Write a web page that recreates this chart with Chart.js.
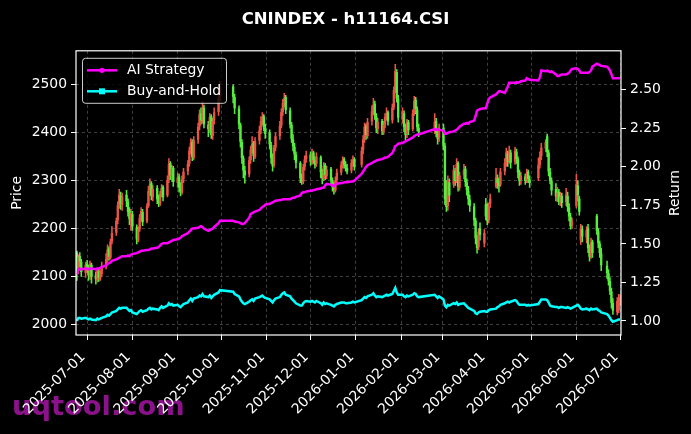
<!DOCTYPE html>
<html>
<head>
<meta charset="utf-8">
<title>CNINDEX - h11164.CSI</title>
<script src="https://cdn.jsdelivr.net/npm/chart.js@4.4.1/dist/chart.umd.min.js"></script>
<style>
  html, body { margin: 0; padding: 0; background: #000; }
  #wrap { position: relative; width: 691px; height: 434px; }
</style>
</head>
<body>
<div id="wrap"><canvas id="myChart"></canvas></div>
<script>
// exchange holidays (weekdays with no trading)
const holidays = [
  "2025-10-01", "2025-10-02", "2025-10-03", "2025-10-06", "2025-10-07", "2025-10-08",
  "2026-01-01", "2026-01-02",
  "2026-02-16", "2026-02-17", "2026-02-18", "2026-02-19", "2026-02-20", "2026-02-23",
  "2026-04-06", "2026-05-01", "2026-05-04", "2026-05-05", "2026-06-19"
];

const monthTicks = [
  "2025-07-01", "2025-08-01", "2025-09-01", "2025-10-01", "2025-11-01", "2025-12-01",
  "2026-01-01", "2026-02-01", "2026-03-01", "2026-04-01", "2026-05-01", "2026-06-01", "2026-07-01"
];
const priceTicks = [2000, 2100, 2200, 2300, 2400, 2500];
const returnTicks = [1.0, 1.25, 1.5, 1.75, 2.0, 2.25, 2.5];

// one row per month, Jun 2025 .. Jul 2026
const opens = [
  2150, 2112, 2142, 2130, 2108,
  2126, 2116, 2100, 2124, 2102, 2094, 2110, 2096, 2106, 2120, 2138, 2158, 2140, 2174, 2192, 2218, 2250, 2268, 2250, 2270, 2256, 2238, 2218,
  2230, 2202, 2176, 2200, 2224, 2234, 2216, 2248, 2280, 2294, 2266, 2284, 2260, 2252, 2274, 2286, 2270, 2302, 2336, 2310, 2326,
  2296, 2308, 2284, 2276, 2304, 2320, 2336, 2364, 2380, 2348, 2386, 2414, 2440, 2428, 2452, 2416, 2406, 2434, 2394, 2426, 2444, 2474,
  2496, 2474, 2450, 2416, 2380, 2346, 2320, 2314, 2344, 2366, 2378, 2350, 2384, 2406, 2426, 2434, 2410,
  2400, 2374, 2346, 2334, 2370, 2394, 2416, 2444, 2464, 2474, 2446, 2416, 2386, 2370, 2354, 2336, 2304, 2298, 2330, 2346,
  2354, 2338, 2358, 2342, 2336, 2348, 2316, 2304, 2332, 2310, 2324, 2300, 2286, 2280, 2302, 2318, 2334, 2344, 2332, 2326, 2322, 2338, 2344,
  2334, 2364, 2388, 2414, 2394, 2424, 2446, 2460, 2434, 2408, 2424, 2402, 2418, 2434, 2442, 2426, 2454, 2490, 2526, 2470,
  2430, 2440, 2410, 2398, 2422, 2408, 2442, 2468, 2448, 2410, 2404, 2424, 2398, 2390,
  2410, 2372, 2264, 2248, 2296, 2292, 2320, 2302, 2336, 2286, 2312, 2324, 2296, 2278, 2260, 2246, 2216, 2178, 2162, 2200, 2170, 2250,
  2240, 2218, 2252, 2288, 2304, 2298, 2292, 2320, 2338, 2356, 2342, 2358, 2340, 2360, 2344, 2316, 2302, 2308, 2302, 2318, 2302,
  2306, 2334, 2352, 2368, 2392, 2358, 2318, 2298, 2282, 2266, 2276, 2256, 2268, 2256, 2268, 2244, 2224, 2208,
  2248, 2290, 2262, 2176, 2198, 2182, 2200, 2158, 2144, 2172, 2226, 2194, 2168, 2148, 2122, 2106, 2090, 2068, 2044, 2026, 2030,
  2048
];
const highs = [
  2153, 2146, 2150, 2136, 2130,
  2134, 2124, 2132, 2128, 2110, 2118, 2116, 2114, 2130, 2148, 2166, 2162, 2178, 2204, 2222, 2256, 2282, 2276, 2274, 2280, 2262, 2244, 2240,
  2236, 2208, 2204, 2230, 2244, 2240, 2252, 2288, 2304, 2298, 2290, 2290, 2270, 2278, 2292, 2290, 2310, 2346, 2340, 2332, 2330,
  2316, 2314, 2296, 2310, 2326, 2342, 2370, 2388, 2386, 2392, 2420, 2448, 2452, 2466, 2458, 2424, 2440, 2438, 2430, 2452, 2480, 2508,
  2500, 2480, 2456, 2420, 2386, 2352, 2330, 2350, 2372, 2392, 2382, 2390, 2414, 2434, 2442, 2438, 2418,
  2406, 2380, 2356, 2374, 2400, 2424, 2450, 2470, 2482, 2478, 2452, 2422, 2396, 2378, 2360, 2340, 2314, 2334, 2352, 2362,
  2360, 2366, 2362, 2350, 2358, 2352, 2324, 2338, 2336, 2330, 2328, 2306, 2296, 2308, 2324, 2340, 2350, 2348, 2340, 2334, 2344, 2352, 2348,
  2370, 2394, 2420, 2418, 2430, 2456, 2472, 2466, 2440, 2430, 2428, 2424, 2440, 2452, 2446, 2460, 2496, 2543, 2532, 2478,
  2452, 2446, 2418, 2428, 2426, 2448, 2476, 2474, 2454, 2418, 2440, 2430, 2408, 2418,
  2418, 2378, 2300, 2310, 2304, 2332, 2326, 2346, 2340, 2318, 2334, 2330, 2304, 2288, 2270, 2252, 2222, 2186, 2200, 2212, 2198, 2263,
  2252, 2254, 2272, 2326, 2312, 2306, 2326, 2346, 2368, 2362, 2372, 2364, 2370, 2366, 2350, 2322, 2318, 2314, 2324, 2322, 2310,
  2347, 2360, 2378, 2386, 2397, 2364, 2326, 2306, 2294, 2286, 2282, 2276, 2274, 2284, 2276, 2252, 2232, 2222,
  2313, 2300, 2268, 2209, 2206, 2204, 2209, 2166, 2180, 2176, 2230, 2200, 2174, 2159, 2132, 2114, 2098, 2076, 2054, 2056, 2063,
  2062
];
const lows = [
  2092, 2106, 2120, 2100, 2098,
  2108, 2092, 2094, 2086, 2084, 2088, 2090, 2092, 2100, 2116, 2130, 2134, 2136, 2168, 2186, 2210, 2242, 2240, 2238, 2246, 2226, 2208, 2196,
  2196, 2168, 2172, 2194, 2216, 2206, 2212, 2244, 2270, 2260, 2258, 2252, 2246, 2248, 2266, 2258, 2266, 2296, 2302, 2298, 2288,
  2286, 2276, 2268, 2272, 2296, 2312, 2330, 2356, 2342, 2344, 2378, 2406, 2418, 2420, 2410, 2392, 2400, 2388, 2386, 2418, 2436, 2466,
  2462, 2440, 2408, 2370, 2336, 2306, 2295, 2308, 2336, 2358, 2340, 2346, 2376, 2398, 2416, 2404, 2388,
  2366, 2336, 2320, 2328, 2362, 2386, 2410, 2436, 2454, 2440, 2410, 2380, 2362, 2344, 2326, 2296, 2292, 2294, 2322, 2338,
  2332, 2334, 2336, 2326, 2330, 2306, 2293, 2300, 2302, 2304, 2292, 2278, 2272, 2276, 2296, 2312, 2326, 2326, 2320, 2314, 2316, 2330, 2322,
  2328, 2356, 2380, 2386, 2388, 2416, 2438, 2428, 2400, 2398, 2396, 2396, 2410, 2426, 2416, 2420, 2448, 2484, 2464, 2422,
  2420, 2402, 2384, 2390, 2396, 2404, 2436, 2440, 2404, 2392, 2398, 2392, 2376, 2382,
  2364, 2250, 2236, 2238, 2256, 2286, 2290, 2296, 2278, 2280, 2304, 2288, 2270, 2250, 2236, 2206, 2168, 2149, 2156, 2176, 2162, 2218,
  2208, 2212, 2244, 2285, 2284, 2276, 2288, 2312, 2330, 2330, 2336, 2326, 2334, 2336, 2306, 2290, 2292, 2292, 2296, 2296, 2286,
  2300, 2326, 2344, 2360, 2350, 2310, 2293, 2270, 2258, 2256, 2250, 2248, 2244, 2248, 2236, 2216, 2199, 2200,
  2243, 2258, 2228, 2167, 2172, 2170, 2150, 2132, 2138, 2140, 2188, 2160, 2140, 2112, 2096, 2082, 2062, 2034, 2021, 2020, 2024,
  2040
];
const closes = [
  2112, 2140, 2132, 2110, 2124,
  2118, 2104, 2126, 2100, 2095, 2112, 2098, 2108, 2122, 2136, 2155, 2142, 2172, 2190, 2215, 2248, 2270, 2252, 2266, 2258, 2236, 2220, 2232,
  2205, 2178, 2198, 2222, 2236, 2214, 2246, 2278, 2292, 2268, 2282, 2262, 2254, 2272, 2284, 2266, 2300, 2334, 2312, 2324, 2298,
  2306, 2286, 2278, 2302, 2318, 2334, 2362, 2378, 2350, 2384, 2412, 2438, 2426, 2450, 2418, 2408, 2432, 2396, 2424, 2442, 2472, 2494,
  2476, 2452, 2418, 2382, 2348, 2322, 2312, 2342, 2364, 2376, 2352, 2382, 2404, 2424, 2432, 2412, 2398,
  2376, 2348, 2332, 2368, 2392, 2414, 2442, 2462, 2472, 2448, 2418, 2388, 2372, 2356, 2338, 2306, 2300, 2328, 2344, 2352,
  2340, 2356, 2344, 2334, 2350, 2318, 2306, 2330, 2312, 2322, 2302, 2288, 2282, 2300, 2316, 2332, 2342, 2334, 2328, 2320, 2336, 2342, 2330,
  2362, 2386, 2412, 2396, 2422, 2444, 2458, 2436, 2410, 2422, 2404, 2416, 2432, 2440, 2424, 2452, 2488, 2528, 2472, 2432,
  2442, 2412, 2396, 2420, 2406, 2440, 2466, 2450, 2412, 2402, 2422, 2400, 2388, 2410,
  2372, 2262, 2246, 2300, 2270, 2322, 2300, 2334, 2288, 2310, 2322, 2298, 2280, 2262, 2248, 2218, 2180, 2160, 2192, 2188, 2190, 2226,
  2216, 2246, 2262, 2306, 2296, 2290, 2318, 2336, 2358, 2340, 2360, 2338, 2362, 2346, 2318, 2300, 2310, 2300, 2316, 2304, 2296,
  2332, 2350, 2368, 2380, 2360, 2320, 2300, 2280, 2268, 2274, 2258, 2266, 2254, 2270, 2246, 2226, 2206, 2214,
  2292, 2270, 2236, 2200, 2184, 2196, 2160, 2142, 2170, 2150, 2196, 2170, 2150, 2124, 2108, 2092, 2070, 2046, 2030, 2048, 2050,
  2056
];

const aiStrategy = [
  1.30, 1.335, 1.34, 1.335, 1.34,
  1.34, 1.335, 1.34, 1.34, 1.335, 1.34, 1.34, 1.345, 1.35, 1.36, 1.37, 1.375, 1.38, 1.39, 1.40, 1.405, 1.41, 1.415, 1.42, 1.42, 1.425, 1.42, 1.43,
  1.435, 1.44, 1.445, 1.45, 1.455, 1.455, 1.46, 1.46, 1.465, 1.47, 1.47, 1.475, 1.48, 1.49, 1.50, 1.505, 1.505, 1.51, 1.515, 1.52, 1.525,
  1.53, 1.535, 1.54, 1.55, 1.555, 1.57, 1.58, 1.59, 1.60, 1.60, 1.605, 1.61, 1.615, 1.61, 1.60, 1.585, 1.59, 1.595, 1.60, 1.61, 1.635, 1.65,
  1.65, 1.645, 1.64, 1.635, 1.63, 1.63, 1.635, 1.67, 1.695, 1.70, 1.705, 1.71, 1.72, 1.73, 1.74, 1.745, 1.755,
  1.76, 1.765, 1.77, 1.775, 1.78, 1.785, 1.785, 1.79, 1.79, 1.79, 1.79, 1.795, 1.80, 1.80, 1.805, 1.815, 1.83, 1.835, 1.835, 1.84,
  1.845, 1.845, 1.85, 1.85, 1.855, 1.86, 1.865, 1.865, 1.88, 1.89, 1.885, 1.88, 1.875, 1.885, 1.89, 1.895, 1.895, 1.90, 1.90, 1.90, 1.905, 1.905, 1.91,
  1.955, 1.97, 1.985, 2.00, 2.01, 2.025, 2.03, 2.035, 2.04, 2.045, 2.05, 2.055, 2.06, 2.06, 2.065, 2.09, 2.11, 2.135, 2.14, 2.15,
  2.155, 2.16, 2.165, 2.17, 2.175, 2.19, 2.20, 2.205, 2.21, 2.21, 2.245, 2.24, 2.245, 2.24,
  2.235, 2.215, 2.215, 2.22, 2.225, 2.23, 2.235, 2.24, 2.25, 2.26, 2.28, 2.28, 2.285, 2.28, 2.29, 2.30, 2.33, 2.365, 2.37, 2.375, 2.38, 2.38,
  2.41, 2.44, 2.45, 2.47, 2.48, 2.49, 2.49, 2.48, 2.50, 2.52, 2.545, 2.545, 2.545, 2.55, 2.545, 2.55, 2.555, 2.56, 2.575, 2.57, 2.565,
  2.56, 2.58, 2.625, 2.62, 2.625, 2.62, 2.615, 2.62, 2.60, 2.59, 2.59, 2.595, 2.60, 2.60, 2.605, 2.61, 2.625, 2.635,
  2.64, 2.635, 2.625, 2.61, 2.61, 2.61, 2.61, 2.615, 2.625, 2.65, 2.67, 2.665, 2.66, 2.655, 2.65, 2.64, 2.625, 2.60, 2.575, 2.575, 2.575,
  2.575
];
const buyHold = [
  1.00, 1.02, 1.02, 1.015, 1.02,
  1.015, 1.01, 1.015, 1.01, 1.005, 1.015, 1.01, 1.015, 1.02, 1.03, 1.04, 1.035, 1.045, 1.055, 1.065, 1.075, 1.085, 1.08, 1.085, 1.085, 1.075, 1.065, 1.07,
  1.055, 1.045, 1.055, 1.065, 1.07, 1.06, 1.07, 1.08, 1.085, 1.075, 1.08, 1.075, 1.07, 1.085, 1.095, 1.085, 1.10, 1.115, 1.105, 1.11, 1.10,
  1.105, 1.095, 1.09, 1.10, 1.11, 1.12, 1.135, 1.145, 1.13, 1.145, 1.155, 1.165, 1.16, 1.175, 1.16, 1.155, 1.165, 1.15, 1.16, 1.17, 1.185, 1.20,
  1.19, 1.175, 1.16, 1.14, 1.125, 1.115, 1.11, 1.125, 1.135, 1.14, 1.13, 1.145, 1.155, 1.16, 1.165, 1.155, 1.15,
  1.14, 1.13, 1.12, 1.135, 1.145, 1.155, 1.17, 1.18, 1.185, 1.17, 1.16, 1.145, 1.135, 1.125, 1.115, 1.10, 1.10, 1.115, 1.125, 1.13,
  1.125, 1.13, 1.125, 1.12, 1.13, 1.115, 1.105, 1.12, 1.11, 1.115, 1.105, 1.10, 1.095, 1.105, 1.11, 1.12, 1.12, 1.12, 1.115, 1.115, 1.12, 1.125, 1.12,
  1.135, 1.145, 1.155, 1.15, 1.16, 1.17, 1.18, 1.165, 1.155, 1.16, 1.155, 1.16, 1.165, 1.17, 1.165, 1.175, 1.195, 1.215, 1.185, 1.17,
  1.17, 1.16, 1.155, 1.165, 1.16, 1.17, 1.18, 1.175, 1.16, 1.155, 1.17, 1.16, 1.15, 1.16,
  1.14, 1.10, 1.09, 1.105, 1.10, 1.115, 1.11, 1.12, 1.105, 1.11, 1.115, 1.105, 1.095, 1.085, 1.08, 1.065, 1.05, 1.045, 1.055, 1.06, 1.065, 1.06,
  1.06, 1.07, 1.075, 1.08, 1.09, 1.095, 1.105, 1.115, 1.12, 1.125, 1.12, 1.125, 1.135, 1.13, 1.115, 1.105, 1.105, 1.105, 1.10, 1.105, 1.10,
  1.11, 1.125, 1.14, 1.14, 1.135, 1.12, 1.10, 1.095, 1.09, 1.09, 1.085, 1.09, 1.09, 1.085, 1.09, 1.085, 1.08, 1.085,
  1.10, 1.105, 1.095, 1.08, 1.075, 1.08, 1.075, 1.07, 1.08, 1.075, 1.08, 1.07, 1.065, 1.055, 1.045, 1.035, 1.02, 1.005, 0.995, 1.005, 1.01,
  1.01
];

const DAY = 86400000;
const utc = (s) => Date.parse(s + "T00:00:00Z");
const isoDate = (t) => new Date(t).toISOString().slice(0, 10);

const tradingDays = (from, to, skip) => {
  const days = [];
  for (let t = utc(from); t <= utc(to); t += DAY) {
    const wd = new Date(t).getUTCDay();
    if (wd === 0 || wd === 6 || skip.includes(isoDate(t))) continue;
    days.push(t);
  }
  return days;
};

const dates = tradingDays("2025-06-24", "2026-07-01", holidays);
[opens, highs, lows, closes, aiStrategy, buyHold].forEach((arr) => {
  if (arr.length !== dates.length) console.error("length mismatch", arr.length, dates.length);
});

const upColor = "#ec5446";
const downColor = "#55ee3c";
const candleColor = (ctx) =>
  closes[ctx.dataIndex] >= opens[ctx.dataIndex] ? upColor : downColor;

const gridColor = "rgba(255,255,255,0.25)";
const tickFont = { family: "DejaVu Sans", size: 13.9 };

// watermark goes under the axes so the date labels stay on top
const watermark = {
  id: "watermark",
  beforeDraw(chart) {
    const { ctx } = chart;
    ctx.save();
    ctx.fillStyle = "#8c128c";
    ctx.font = "bold 27.3px 'DejaVu Sans'";
    ctx.textBaseline = "alphabetic";
    ctx.fillText("uqtool.com", 12, 415);
    ctx.restore();
  },
};

// white box round the plot area
const frame = {
  id: "frame",
  afterDraw(chart) {
    const { ctx, chartArea: a } = chart;
    ctx.save();
    ctx.strokeStyle = "#fff";
    ctx.lineWidth = 1.2;
    ctx.strokeRect(a.left, a.top, a.right - a.left, a.bottom - a.top);
    ctx.restore();
  },
};

// matplotlib-style legend in the upper left corner
const legendBox = {
  id: "legendBox",
  afterDraw(chart) {
    const { ctx, chartArea: a } = chart;
    const x = a.left + 6.5;
    const y = a.top + 7.5;
    ctx.save();
    ctx.fillStyle = "rgba(0,0,0,0.8)";
    ctx.strokeStyle = "rgba(255,255,255,0.8)";
    ctx.lineWidth = 1;
    ctx.beginPath();
    ctx.roundRect(x, y, 144, 45, 3);
    ctx.fill();
    ctx.stroke();
    const lines = chart.data.datasets.filter((d) => d.type === "line");
    lines.forEach((ds, i) => {
      const cy = y + 12 + i * 21;
      ctx.strokeStyle = ds.borderColor;
      ctx.lineWidth = 2.5;
      ctx.beginPath();
      ctx.moveTo(x + 4.5, cy);
      ctx.lineTo(x + 34.5, cy);
      ctx.stroke();
      ctx.fillStyle = ds.borderColor;
      if (i === 0) {
        ctx.beginPath();
        ctx.arc(x + 19.5, cy, 2.6, 0, Math.PI * 2);
        ctx.fill();
      } else {
        ctx.fillRect(x + 16.5, cy - 3, 6, 6);
      }
      ctx.fillStyle = "#fff";
      ctx.font = "13.9px 'DejaVu Sans'";
      ctx.textBaseline = "middle";
      ctx.fillText(ds.label, x + 44.5, cy + 0.5);
    });
    ctx.restore();
  },
};

// right axis title reads bottom-to-top like the left one
const returnTitle = {
  id: "returnTitle",
  afterDraw(chart) {
    const { ctx, chartArea: a } = chart;
    ctx.save();
    ctx.fillStyle = "#fff";
    ctx.font = "13.9px 'DejaVu Sans'";
    ctx.textAlign = "center";
    ctx.textBaseline = "middle";
    ctx.translate(675, (a.top + a.bottom) / 2);
    ctx.rotate(-Math.PI / 2);
    ctx.fillText("Return", 0, 0);
    ctx.restore();
  },
};

const wickData = dates.map((t, i) => ({ x: t, y: [lows[i], highs[i]] }));
const bodyData = dates.map((t, i) => ({ x: t, y: [opens[i], closes[i]] }));

new Chart(document.getElementById("myChart"), {
  type: "line",
  data: {
    datasets: [
      {
        type: "line",
        label: "AI Strategy",
        data: dates.map((t, i) => ({ x: t, y: aiStrategy[i] })),
        yAxisID: "y2",
        borderColor: "#ff00ff",
        borderWidth: 2.5,
        pointRadius: 0,
        tension: 0,
        order: 0,
      },
      {
        type: "line",
        label: "Buy-and-Hold",
        data: dates.map((t, i) => ({ x: t, y: buyHold[i] })),
        yAxisID: "y2",
        borderColor: "#00ffff",
        borderWidth: 2.5,
        pointRadius: 0,
        tension: 0,
        order: 1,
      },
      {
        type: "bar",
        label: "body",
        data: bodyData,
        yAxisID: "y",
        backgroundColor: candleColor,
        barThickness: 1.7,
        grouped: false,
        order: 2,
      },
      {
        type: "bar",
        label: "wick",
        data: wickData,
        yAxisID: "y",
        backgroundColor: candleColor,
        barThickness: 0.9,
        grouped: false,
        order: 3,
      },
    ],
  },
  options: {
    responsive: true,
    maintainAspectRatio: false,
    animation: false,
    events: [],
    layout: { padding: 0 },
    plugins: {
      legend: { display: false },
      tooltip: { enabled: false },
      title: {
        display: true,
        text: "CNINDEX - h11164.CSI",
        color: "#fff",
        font: { family: "DejaVu Sans", size: 16.5, weight: "bold" },
        padding: { top: 10, bottom: 21 },
      },
    },
    scales: {
      x: {
        type: "linear",
        min: utc("2025-06-24") - 0.6 * DAY,
        max: utc("2026-07-01") + 0.55 * DAY,
        offset: false,
        afterBuildTicks: (s) => {
          s.ticks = monthTicks.map((m) => ({ value: utc(m) }));
        },
        afterFit: (s) => {
          s.height = 99;
        },
        ticks: {
          color: "#fff",
          font: tickFont,
          autoSkip: false,
          minRotation: 45,
          maxRotation: 45,
          padding: 9,
          labelOffset: -4,
          callback: (v) => isoDate(v),
        },
        grid: {
          color: gridColor,
          offset: false,
          tickColor: "#fff",
          tickLength: 5,
          tickBorderDash: [],
        },
        border: { display: false, dash: [3, 3] },
      },
      y: {
        position: "left",
        min: 1978,
        max: 2571,
        afterBuildTicks: (s) => {
          s.ticks = priceTicks.map((v) => ({ value: v }));
        },
        afterFit: (s) => {
          s.width = 76;
        },
        ticks: {
          color: "#fff",
          font: tickFont,
          padding: 4,
          callback: (v) => String(v),
        },
        grid: {
          color: gridColor,
          tickColor: "#fff",
          tickLength: 5,
          tickBorderDash: [],
        },
        border: { display: false, dash: [3, 3] },
        title: {
          display: true,
          text: "Price",
          color: "#fff",
          font: tickFont,
          padding: { top: 9, bottom: 0 },
        },
      },
      y2: {
        position: "right",
        min: 0.909,
        max: 2.753,
        afterBuildTicks: (s) => {
          s.ticks = returnTicks.map((v) => ({ value: v }));
        },
        afterFit: (s) => {
          s.width = 70;
        },
        ticks: {
          color: "#fff",
          font: tickFont,
          padding: 4,
          callback: (v) => v.toFixed(2),
        },
        grid: {
          drawOnChartArea: false,
          tickColor: "#fff",
          tickLength: 5,
        },
        border: { display: false },
      },
    },
  },
  plugins: [watermark, frame, legendBox, returnTitle],
});
</script>
</body>
</html>
